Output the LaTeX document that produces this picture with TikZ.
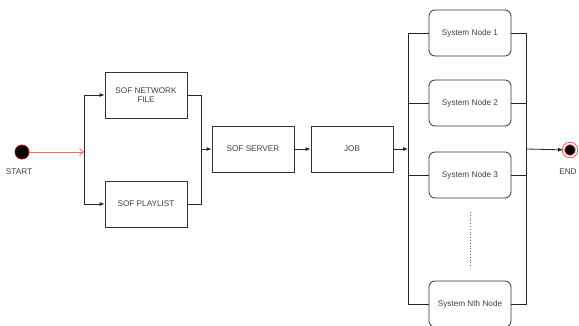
\documentclass[tikz,border=0pt]{standalone}
\usepackage{fontspec}
\setmainfont{Liberation Sans}
\usetikzlibrary{arrows.meta,positioning}

\begin{document}
\begin{tikzpicture}[x=1pt,y=-1pt,>=Latex,
proc box/.style={draw=black!80,line width=0.8pt,minimum width=82pt,minimum height=46pt,align=center,text=black!75,font=\fontsize{8.2}{9.5}\selectfont,inner sep=1pt},
sys box/.style={proc box,rounded corners=6pt},
flow/.style={-{Latex[length=5pt,width=4pt]},line width=0.8pt,black!85},
wire/.style={line width=0.8pt,black!85},
start flow/.style={-{Straight Barb[length=4pt,width=7pt]},line width=0.8pt,red!60},
end label/.style={text=black!75,font=\fontsize{8.2}{9.5}\selectfont,inner sep=0pt}]
\useasboundingbox[fill=white] (0,0) rectangle (579,325);
% start / end markers
\node[circle,fill=black,draw=red!70!black,line width=0.8pt,minimum size=14pt,inner sep=0pt] (start) at (22,152) {};
\node[end label] (startlbl) at (19,172) {START};
\node[circle,fill=black,draw=red!75,line width=0.8pt,double=white,double distance=1.6pt,minimum size=13pt,inner sep=0pt] (end) at (570,150) {};
\node[end label] (endlbl) at (568,172) {END};
% first column
\node[proc box] (net) at (146,95) {SOF NETWORK\\FILE};
\node[proc box] (play) at (146,204) {SOF PLAYLIST};
\node[proc box] (server) at (253,149) {SOF SERVER};
\node[proc box] (job) at (352,149) {JOB};
% system nodes
\node[sys box] (sys1) at (470,33) {System Node 1};
\node[sys box] (sys2) at (470,103) {System Node 2};
\node[sys box] (sys3) at (470,175) {System Node 3};
\node[sys box] (sysn) at (470,304) {System Nth Node};
\coordinate (fork) at (84,152);
\coordinate (join) at (201,149);
\coordinate (split) at (408,149);
\coordinate (merge) at (526,149);
\coordinate (dottop) at (470,212);
\coordinate (dotbot) at (470,266);
\draw[start flow] (start) -- (fork);
\draw[flow] (fork) |- (net);
\draw[flow] (fork) |- (play);
\draw[wire] (net) -| (join);
\draw[wire] (play) -| (join);
\draw[flow] (join) -- (server);
\draw[flow] (server) -- (job);
\draw[flow] (job) -- (split);
\foreach \s in {sys1,sys2,sys3,sysn}{
  \draw[wire] (split) |- (\s);
  \draw[wire] (\s) -| (merge);
}
\draw[flow] (merge) -- (end);
\draw[dotted,line width=0.8pt,black!60] (dottop) -- (dotbot);
\end{tikzpicture}
\end{document}
